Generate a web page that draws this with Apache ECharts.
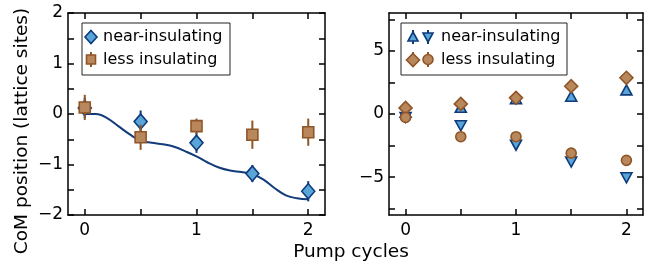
<!DOCTYPE html>
<html>
<head>
<meta charset="utf-8">
<script src="https://cdn.jsdelivr.net/npm/echarts@6/dist/echarts.min.js"></script>
<style>html,body{margin:0;padding:0;background:#fff}#c{width:650px;height:266px}</style>
</head>
<body>
<div id="c"></div>
<script>
// ---- data ----
const cycles = [0, 0.5, 1, 1.5, 2];
const xTickValues = [0, 0.5, 1, 1.5, 2];
const xLabelValues = [0, 1, 2];
// left panel
const nearVals = [0.12, -0.15, -0.57, -1.18, -1.53];
const nearErr  = [0.20, 0.22, 0.20, 0.17, 0.20];
const lessVals = [0.13, -0.46, -0.24, -0.41, -0.36];
const lessErr  = [0.25, 0.25, 0.15, 0.28, 0.27];
const theoryX = [0, 0.1, 0.2, 0.3, 0.4, 0.5, 0.6, 0.7, 0.8, 0.9, 1.0, 1.1, 1.2, 1.3, 1.4, 1.5, 1.6, 1.7, 1.8, 1.9, 2.0];
const theoryY = [0.0, 0.0, -0.08, -0.24, -0.40, -0.53, -0.57, -0.60, -0.65, -0.74, -0.84, -0.96, -1.06, -1.12, -1.15, -1.19, -1.30, -1.47, -1.61, -1.67, -1.69];
const leftYLabels = [-2, -1, 0, 1, 2];
const leftYTicks = [-2, -1.5, -1, -0.5, 0, 0.5, 1, 1.5, 2];
// right panel
const nearUp   = [0.13, 0.53, 1.20, 1.41, 1.91];
const nearDown = [-0.27, -0.93, -2.47, -3.80, -5.05];
const lessUp   = [0.48, 0.80, 1.28, 2.20, 2.87];
const lessDown = [-0.27, -1.80, -1.80, -3.10, -3.67];
const rightErr = [0.3, 0.3, 0.3, 0.3, 0.3];
const rightYLabels = [-5, 0, 5];
const rightYTicks = [-7.5, -5, -2.5, 0, 2.5, 5, 7.5];

// ---- styles ----
const blueFill = '#5aa5d8', blueEdge = '#0d3b7c', lineCol = '#123b7a';
const brownFill = '#b9875c', brownEdge = '#8f5628';
const font = 'DejaVu Sans';
const tickFont = 17, labelFont = 18.5, legFont = 16;
const minus = v => String(v).replace('-', '\u2212');

const pts = (xs, ys) => xs.map((x, i) => [x, ys[i]]);
const errPts = (xs, ys, es) => xs.map((x, i) => [x, ys[i], es[i]]);

function errSeries(xi, yi, data, color, z) {
  return {
    type: 'custom', xAxisIndex: xi, yAxisIndex: yi, z: z, silent: true,
    data: data,
    renderItem: function (params, api) {
      const x = api.value(0), y = api.value(1), e = api.value(2);
      const p1 = api.coord([x, y - e]), p2 = api.coord([x, y + e]);
      return { type: 'line', shape: { x1: p1[0], y1: p1[1], x2: p2[0], y2: p2[1] },
        style: { stroke: color, lineWidth: 2 } };
    }
  };
}
function scat(xi, yi, data, symbol, size, fill, edge, z, rot) {
  return { type: 'scatter', xAxisIndex: xi, yAxisIndex: yi, data: data, symbol: symbol,
    symbolSize: size, symbolRotate: rot || 0, z: z,
    itemStyle: { color: fill, borderColor: edge, borderWidth: 1.6, opacity: 1 } };
}

function xAx(gi, top) {
  return {
    type: 'value', gridIndex: gi, position: top ? 'top' : 'bottom', min: -0.15, max: 2.15,
    axisLine: { show: true, onZero: false, lineStyle: { color: '#000', width: 1.5 } },
    axisTick: { show: true, inside: true, length: 6, customValues: xTickValues, lineStyle: { color: '#000', width: 1.5 } },
    axisLabel: { show: !top, customValues: xLabelValues, color: '#000', fontSize: tickFont, fontFamily: font, margin: 7 },
    splitLine: { show: false }
  };
}
function yAx(gi, right, min, max, labels, ticks) {
  return {
    type: 'value', gridIndex: gi, position: right ? 'right' : 'left', min: min, max: max,
    axisLine: { show: true, onZero: false, lineStyle: { color: '#000', width: 1.5 } },
    axisTick: { show: true, inside: true, length: 6, customValues: ticks, lineStyle: { color: '#000', width: 1.5 } },
    axisLabel: { show: !right, customValues: labels, color: '#000', fontSize: tickFont, fontFamily: font, margin: 5, formatter: minus },
    splitLine: { show: false }
  };
}

const legendText = { fill: '#000', fontSize: legFont, fontFamily: font, verticalAlign: 'middle' };

const option = {
  animation: false,
  backgroundColor: '#fff',
  grid: [
    { left: 68, top: 13, width: 257, height: 202 },
    { left: 389, top: 13, width: 254, height: 202 }
  ],
  xAxis: [xAx(0, false), xAx(0, true), xAx(1, false), xAx(1, true)],
  yAxis: [
    yAx(0, false, -2, 2, leftYLabels, leftYTicks), yAx(0, true, -2, 2, leftYLabels, leftYTicks),
    yAx(1, false, -8, 8, rightYLabels, rightYTicks), yAx(1, true, -8, 8, rightYLabels, rightYTicks)
  ],
  series: [
    { type: 'line', xAxisIndex: 0, yAxisIndex: 0, data: pts(theoryX, theoryY), smooth: 0.4,
      showSymbol: false, lineStyle: { color: lineCol, width: 2 }, z: 1 },
    errSeries(0, 0, errPts(cycles, nearVals, nearErr), blueEdge, 2),
    scat(0, 0, pts(cycles, nearVals), 'diamond', [13, 15], blueFill, blueEdge, 3),
    errSeries(0, 0, errPts(cycles, lessVals, lessErr), brownEdge, 4),
    scat(0, 0, pts(cycles, lessVals), 'rect', 11, brownFill, brownEdge, 5),

    errSeries(2, 2, errPts(cycles, nearUp, rightErr), blueEdge, 2),
    scat(2, 2, pts(cycles, nearUp), 'triangle', [11, 10], blueFill, blueEdge, 3),
    errSeries(2, 2, errPts(cycles, nearDown, rightErr), blueEdge, 2),
    scat(2, 2, pts(cycles, nearDown), 'triangle', [11, 10], blueFill, blueEdge, 3, 180),
    errSeries(2, 2, errPts(cycles, lessUp, rightErr), brownEdge, 4),
    scat(2, 2, pts(cycles, lessUp), 'diamond', [13, 13], brownFill, brownEdge, 5),
    errSeries(2, 2, errPts(cycles, lessDown, rightErr), brownEdge, 4),
    scat(2, 2, pts(cycles, lessDown), 'circle', 10, brownFill, brownEdge, 5)
  ],
  graphic: [
    { type: 'text', x: 22, y: 131, rotation: Math.PI / 2, style: { text: 'CoM position (lattice sites)', fill: '#000', fontSize: labelFont, fontFamily: font, align: 'center', verticalAlign: 'middle' } },
    { type: 'text', x: 351, y: 252, style: { text: 'Pump cycles', fill: '#000', fontSize: labelFont, fontFamily: font, align: 'center', verticalAlign: 'middle' } },
    // left legend
    { type: 'rect', shape: { x: 82, y: 23, width: 148, height: 52 }, style: { fill: '#fff', stroke: '#222', lineWidth: 1 }, z: 10 },
    { type: 'line', shape: { x1: 91, y1: 30, x2: 91, y2: 44 }, style: { stroke: blueEdge, lineWidth: 2 }, z: 11 },
    { type: 'polygon', shape: { points: [[91, 30.5], [97, 37], [91, 43.5], [85, 37]] }, style: { fill: blueFill, stroke: blueEdge, lineWidth: 1.6 }, z: 12 },
    { type: 'text', x: 103, y: 37, style: Object.assign({ text: 'near-insulating' }, legendText), z: 12 },
    { type: 'line', shape: { x1: 91, y1: 52, x2: 91, y2: 67 }, style: { stroke: brownEdge, lineWidth: 2 }, z: 11 },
    { type: 'rect', shape: { x: 86.5, y: 55, width: 9, height: 9 }, style: { fill: brownFill, stroke: brownEdge, lineWidth: 1.6 }, z: 12 },
    { type: 'text', x: 103, y: 60, style: Object.assign({ text: 'less insulating' }, legendText), z: 12 },
    // right legend
    { type: 'rect', shape: { x: 401, y: 23, width: 166, height: 52 }, style: { fill: '#fff', stroke: '#222', lineWidth: 1 }, z: 10 },
    { type: 'line', shape: { x1: 413, y1: 30, x2: 413, y2: 44 }, style: { stroke: blueEdge, lineWidth: 2 }, z: 11 },
    { type: 'polygon', shape: { points: [[413, 32], [418, 41], [408, 41]] }, style: { fill: blueFill, stroke: blueEdge, lineWidth: 1.6 }, z: 12 },
    { type: 'line', shape: { x1: 428, y1: 30, x2: 428, y2: 44 }, style: { stroke: blueEdge, lineWidth: 2 }, z: 11 },
    { type: 'polygon', shape: { points: [[423, 33], [433, 33], [428, 42]] }, style: { fill: blueFill, stroke: blueEdge, lineWidth: 1.6 }, z: 12 },
    { type: 'text', x: 441, y: 37, style: Object.assign({ text: 'near-insulating' }, legendText), z: 12 },
    { type: 'line', shape: { x1: 413, y1: 52, x2: 413, y2: 67 }, style: { stroke: brownEdge, lineWidth: 2 }, z: 11 },
    { type: 'polygon', shape: { points: [[413, 53.5], [419.5, 60], [413, 66.5], [406.5, 60]] }, style: { fill: brownFill, stroke: brownEdge, lineWidth: 1.6 }, z: 12 },
    { type: 'line', shape: { x1: 428, y1: 52, x2: 428, y2: 67 }, style: { stroke: brownEdge, lineWidth: 2 }, z: 11 },
    { type: 'circle', shape: { cx: 428, cy: 59.5, r: 5 }, style: { fill: brownFill, stroke: brownEdge, lineWidth: 1.6 }, z: 12 },
    { type: 'text', x: 441, y: 60, style: Object.assign({ text: 'less insulating' }, legendText), z: 12 }
  ]
};
const chart = echarts.init(document.getElementById('c'), null, { renderer: 'canvas' });
chart.setOption(option);
</script>
</body>
</html>
